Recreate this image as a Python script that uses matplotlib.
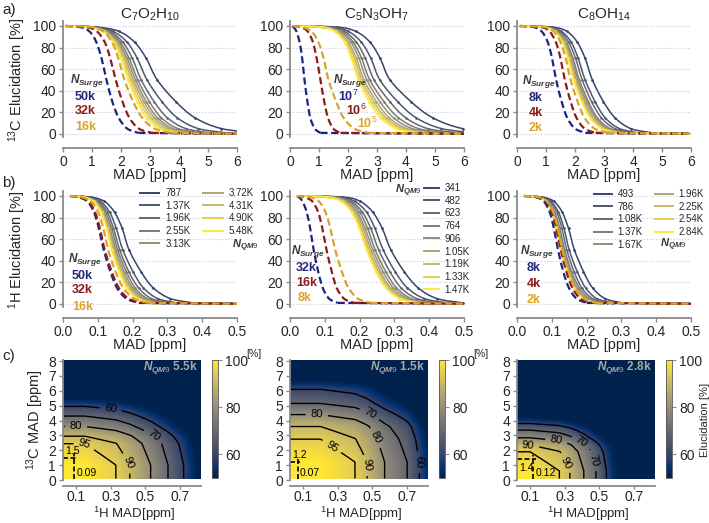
import numpy as np
import matplotlib
matplotlib.use("Agg")
import matplotlib.pyplot as plt
from matplotlib import font_manager
from matplotlib.path import Path
from matplotlib.patches import PathPatch
from matplotlib.lines import Line2D

installed = {f.name for f in font_manager.fontManager.ttflist}
narrow = "Liberation Sans Narrow" if "Liberation Sans Narrow" in installed else "Liberation Sans"

plt.rcParams["font.family"] = ["Liberation Sans", "DejaVu Sans"]
plt.rcParams["mathtext.fontset"] = "custom"
plt.rcParams["mathtext.rm"] = "Liberation Sans"
plt.rcParams["mathtext.it"] = narrow + ":italic:bold"
plt.rcParams["mathtext.bf"] = "Liberation Sans:bold"

# ---------------- data ----------------
# elucidation levels [%] and, per curve, the MAD where the curve crosses them
elu_levels = [99, 95, 85, 70, 50, 30, 15, 5, 1]

# row a: 13C, MAD [ppm]
c13_c7o2h10 = [
    [1.18, 1.93, 2.47, 2.87, 3.25, 3.89, 4.55, 5.46, 6.70],
    [1.06, 1.72, 2.21, 2.56, 2.90, 3.41, 3.94, 4.66, 5.66],
    [1.00, 1.61, 2.06, 2.39, 2.70, 3.14, 3.60, 4.23, 5.09],
    [0.97, 1.55, 1.97, 2.28, 2.58, 2.98, 3.39, 3.96, 4.74],
    [0.94, 1.50, 1.91, 2.21, 2.50, 2.87, 3.26, 3.79, 4.52],
    [0.91, 1.46, 1.86, 2.15, 2.43, 2.79, 3.16, 3.67, 4.36],
    [0.90, 1.43, 1.82, 2.10, 2.37, 2.71, 3.06, 3.55, 4.21],
    [0.88, 1.40, 1.77, 2.05, 2.31, 2.63, 2.97, 3.43, 4.06],
    [0.87, 1.37, 1.73, 2.00, 2.25, 2.56, 2.87, 3.31, 3.91],
]
c13_c7o2h10_surge = [
    [0.58, 0.91, 1.15, 1.33, 1.50, 1.70, 1.92, 2.21, 2.60],
    [0.81, 1.17, 1.44, 1.63, 1.82, 2.05, 2.29, 2.61, 3.06],
    [0.97, 1.39, 1.69, 1.91, 2.12, 2.42, 2.73, 3.15, 3.73],
]
c13_c5n3oh7 = [
    [1.61, 2.27, 2.76, 3.11, 3.45, 4.17, 4.92, 5.95, 7.36],
    [1.40, 2.01, 2.46, 2.79, 3.10, 3.71, 4.35, 5.22, 6.41],
    [1.29, 1.87, 2.29, 2.60, 2.90, 3.44, 3.99, 4.75, 5.80],
    [1.23, 1.78, 2.18, 2.47, 2.75, 3.24, 3.74, 4.43, 5.37],
    [1.18, 1.71, 2.10, 2.38, 2.65, 3.10, 3.57, 4.21, 5.09],
    [1.12, 1.64, 2.01, 2.29, 2.55, 2.98, 3.42, 4.02, 4.85],
    [1.10, 1.60, 1.96, 2.23, 2.48, 2.89, 3.31, 3.89, 4.69],
    [1.09, 1.57, 1.92, 2.17, 2.42, 2.81, 3.22, 3.77, 4.54],
    [1.07, 1.54, 1.88, 2.12, 2.36, 2.73, 3.12, 3.65, 4.38],
]
c13_c5n3oh7_surge = [
    [0.12, 0.22, 0.33, 0.42, 0.50, 0.60, 0.70, 0.85, 1.05],
    [0.36, 0.61, 0.79, 0.92, 1.05, 1.18, 1.31, 1.49, 1.74],
    [0.41, 0.74, 0.98, 1.16, 1.33, 1.59, 1.85, 2.21, 2.71],
]
c13_c8oh14 = [
    [1.22, 1.72, 2.08, 2.35, 2.60, 2.98, 3.38, 3.92, 4.67],
    [1.06, 1.53, 1.87, 2.11, 2.35, 2.69, 3.04, 3.53, 4.19],
    [1.01, 1.46, 1.78, 2.02, 2.25, 2.57, 2.91, 3.37, 4.00],
    [0.95, 1.39, 1.70, 1.93, 2.15, 2.46, 2.77, 3.21, 3.81],
    [0.95, 1.37, 1.67, 1.89, 2.10, 2.40, 2.71, 3.13, 3.71],
    [0.95, 1.34, 1.64, 1.85, 2.05, 2.34, 2.64, 3.05, 3.61],
    [0.94, 1.32, 1.60, 1.80, 2.00, 2.29, 2.59, 3.00, 3.56],
    [0.91, 1.29, 1.57, 1.77, 1.97, 2.25, 2.54, 2.94, 3.49],
    [0.90, 1.28, 1.56, 1.76, 1.95, 2.23, 2.52, 2.92, 3.47],
]
c13_c8oh14_surge = [
    [0.57, 0.85, 1.06, 1.21, 1.35, 1.54, 1.73, 2.00, 2.36],
    [0.82, 1.12, 1.34, 1.50, 1.65, 1.85, 2.05, 2.33, 2.71],
    [0.93, 1.26, 1.50, 1.68, 1.85, 2.09, 2.33, 2.67, 3.14],
]

# row b: 1H, MAD [ppm]
h1_c7o2h10 = [
    [0.080, 0.119, 0.148, 0.170, 0.190, 0.224, 0.259, 0.308, 0.374],
    [0.071, 0.107, 0.134, 0.153, 0.172, 0.201, 0.231, 0.272, 0.328],
    [0.066, 0.101, 0.127, 0.145, 0.163, 0.189, 0.217, 0.254, 0.306],
    [0.065, 0.098, 0.122, 0.140, 0.157, 0.182, 0.207, 0.242, 0.290],
    [0.060, 0.093, 0.117, 0.135, 0.152, 0.176, 0.200, 0.234, 0.281],
    [0.061, 0.092, 0.115, 0.132, 0.148, 0.171, 0.195, 0.227, 0.272],
    [0.058, 0.089, 0.112, 0.129, 0.145, 0.167, 0.190, 0.221, 0.265],
    [0.059, 0.089, 0.111, 0.127, 0.142, 0.163, 0.185, 0.216, 0.257],
    [0.057, 0.087, 0.109, 0.125, 0.140, 0.161, 0.183, 0.214, 0.255],
]
h1_c7o2h10_surge = [
    [0.043, 0.070, 0.089, 0.103, 0.117, 0.136, 0.155, 0.182, 0.218],
    [0.046, 0.073, 0.092, 0.106, 0.120, 0.140, 0.160, 0.188, 0.226],
    [0.052, 0.080, 0.101, 0.116, 0.130, 0.151, 0.173, 0.204, 0.245],
]
h1_c5n3oh7 = [
    [0.152, 0.202, 0.238, 0.265, 0.290, 0.328, 0.368, 0.422, 0.497],
    [0.139, 0.186, 0.220, 0.244, 0.268, 0.302, 0.337, 0.386, 0.452],
    [0.131, 0.176, 0.208, 0.232, 0.255, 0.287, 0.319, 0.364, 0.425],
    [0.125, 0.169, 0.200, 0.223, 0.245, 0.275, 0.306, 0.348, 0.406],
    [0.118, 0.162, 0.193, 0.216, 0.238, 0.267, 0.297, 0.338, 0.394],
    [0.117, 0.159, 0.189, 0.211, 0.232, 0.260, 0.289, 0.329, 0.384],
    [0.112, 0.154, 0.184, 0.206, 0.227, 0.255, 0.284, 0.324, 0.379],
    [0.108, 0.150, 0.180, 0.202, 0.223, 0.250, 0.278, 0.317, 0.370],
    [0.105, 0.147, 0.177, 0.199, 0.220, 0.247, 0.275, 0.314, 0.367],
]
h1_c5n3oh7_surge = [
    [0.025, 0.036, 0.048, 0.058, 0.068, 0.081, 0.094, 0.112, 0.137],
    [0.041, 0.064, 0.081, 0.093, 0.105, 0.120, 0.134, 0.155, 0.183],
    [0.056, 0.083, 0.102, 0.116, 0.130, 0.149, 0.168, 0.195, 0.231],
]
h1_c8oh14 = [
    [0.073, 0.106, 0.130, 0.148, 0.165, 0.191, 0.217, 0.253, 0.303],
    [0.067, 0.097, 0.119, 0.135, 0.150, 0.173, 0.197, 0.229, 0.274],
    [0.065, 0.093, 0.114, 0.129, 0.143, 0.164, 0.186, 0.217, 0.258],
    [0.059, 0.087, 0.108, 0.123, 0.137, 0.157, 0.179, 0.208, 0.247],
    [0.059, 0.086, 0.105, 0.119, 0.133, 0.153, 0.173, 0.201, 0.239],
    [0.056, 0.083, 0.102, 0.116, 0.130, 0.150, 0.170, 0.198, 0.236],
    [0.059, 0.084, 0.102, 0.115, 0.128, 0.147, 0.166, 0.193, 0.229],
    [0.057, 0.082, 0.100, 0.113, 0.126, 0.145, 0.164, 0.191, 0.227],
    [0.056, 0.081, 0.099, 0.112, 0.125, 0.144, 0.163, 0.190, 0.226],
]
h1_c8oh14_surge = [
    [0.054, 0.077, 0.094, 0.106, 0.118, 0.133, 0.149, 0.171, 0.201],
    [0.057, 0.082, 0.100, 0.113, 0.126, 0.142, 0.159, 0.182, 0.213],
    [0.061, 0.086, 0.104, 0.117, 0.130, 0.148, 0.166, 0.192, 0.227],
]

titles = ["C$_7$O$_2$H$_{10}$", "C$_5$N$_3$OH$_7$", "C$_8$OH$_{14}$"]
nqm9_c7o2h10 = ["787", "1.37K", "1.96K", "2.55K", "3.13K", "3.72K", "4.31K", "4.90K", "5.48K"]
nqm9_c5n3oh7 = ["341", "482", "623", "764", "906", "1.05K", "1.19K", "1.33K", "1.47K"]
nqm9_c8oh14 = ["493", "786", "1.08K", "1.37K", "1.67K", "1.96K", "2.25K", "2.54K", "2.84K"]
surge_c13 = [["50k", "32k", "16k"], ["10$^7$", "10$^6$", "10$^5$"], ["8k", "4k", "2k"]]
surge_h1 = [["50k", "32k", "16k"], ["32k", "16k", "8k"], ["8k", "4k", "2k"]]

# row c: joint elucidation maps, 1D profiles (MAD where elucidation hits hm_levels)
hm_levels = [100, 100, 95, 90, 80, 70, 60, 50, 30]
hm_h_pos = [
    [0.025, 0.15, 0.33, 0.41, 0.53, 0.63, 0.72, 0.80, 0.90],
    [0.025, 0.20, 0.40, 0.47, 0.57, 0.70, 0.77, 0.84, 0.95],
    [0.025, 0.10, 0.27, 0.33, 0.41, 0.48, 0.54, 0.60, 0.70],
]
hm_c_pos = [
    [0.1, 1.0, 2.45, 2.95, 3.60, 4.30, 4.95, 5.50, 6.50],
    [0.1, 1.2, 2.75, 3.60, 4.40, 5.15, 6.10, 6.70, 7.80],
    [0.1, 0.6, 1.90, 2.35, 2.84, 3.36, 3.80, 4.20, 5.00],
]
hm_nqm9 = ["5.5k", "1.5k", "2.8k"]
hm_best_h = [0.09, 0.07, 0.12]
hm_best_c = [1.5, 1.2, 1.4]
hm_label_pos = [
    [(0.30, 4.8), (0.55, 3.0), (0.10, 3.6), (0.41, 1.2), (0.15, 2.45)],
    [(0.18, 4.4), (0.47, 4.17), (0.50, 2.7), (0.28, 2.5), (0.46, 1.0), (0.78, 1.2)],
    [(0.09, 2.2), (0.25, 2.47), (0.40, 2.6), (0.32, 1.23), (0.45, 1.28)],
]

# ---------------- styling ----------------
W, H = 709, 523
spine_gray = "#8a8a8a"
text_col = "#262626"
surge_colors = ["#1c2483", "#8e1b1b", "#d9a42a"]
lab_colors = ["#23287a", "#8e1b1b", "#d9a42a"]

fig = plt.figure(figsize=(W / 100, H / 100), dpi=100)


def px_axes(l, t, r, b):
    return fig.add_axes([l / W, 1 - b / H, (r - l) / W, (b - t) / H])


def ftext(x, y, s, **kw):
    kw.setdefault("ha", "left")
    kw.setdefault("va", "center")
    return fig.text(x / W, 1 - y / H, s, **kw)


def style_ax(ax, size=10):
    for s in ["top", "right"]:
        ax.spines[s].set_visible(False)
    for s in ["left", "bottom"]:
        ax.spines[s].set_color(spine_gray)
        ax.spines[s].set_linewidth(1.3)
    ax.tick_params(colors=spine_gray, labelcolor=text_col, labelsize=size, length=3, width=1, pad=2)


def smooth_patch(px, py, **kw):
    # Catmull-Rom through the read points, drawn as cubic Bezier segments
    pts = np.column_stack([px, py]).astype(float)
    verts = [pts[0]]
    codes = [Path.MOVETO]
    n = len(pts)
    for k in range(n - 1):
        p0 = pts[k - 1] if k > 0 else pts[k]
        p1, p2 = pts[k], pts[k + 1]
        p3 = pts[k + 2] if k + 2 < n else pts[k + 1]
        verts += [p1 + (p2 - p0) / 6.0, p2 - (p3 - p1) / 6.0, p2]
        codes += [Path.CURVE4] * 3
    return PathPatch(Path(verts, codes), fill=False, **kw)


def draw_one(ax, xs, x0, xmax, col, lw, ls, z):
    ax.add_patch(smooth_patch([x0] + xs, [100] + elu_levels, edgecolor=col, lw=lw, ls=ls, zorder=z))
    if xs[-1] < xmax:
        ax.plot([xs[-1], xmax], [elu_levels[-1], 0.2], color=col, lw=lw, ls=ls, zorder=z)


def draw_curves(ax, curves, surge, x0, xmax):
    cols = plt.cm.cividis(np.linspace(0.2, 1.0, len(curves)))
    handles = []
    for xs, col in zip(curves, cols):
        draw_one(ax, xs, x0, xmax, col, 1.1, "-", 2)
        ax.plot(xs, elu_levels, ls="none", marker=".", ms=1.8, color=col, zorder=2)
        handles.append(Line2D([], [], color=col, lw=1.4))
    for xs, col in zip(surge, surge_colors):
        draw_one(ax, xs, x0, xmax, col, 1.6, (0, (3.2, 1.6)), 3)
    ax.set_xlim(0, xmax)
    ax.set_ylim(-3, 105)
    style_ax(ax)
    ax.spines["bottom"].set_position(("outward", 8))
    ax.set_yticks(range(0, 101, 20))
    ax.yaxis.grid(True, ls=":", color="#c3cbe0", lw=0.8)
    ax.set_axisbelow(True)
    return handles


lefts = [63, 290, 517]

# row a
c13_sets = [(c13_c7o2h10, c13_c7o2h10_surge), (c13_c5n3oh7, c13_c5n3oh7_surge), (c13_c8oh14, c13_c8oh14_surge)]
for i, (curves, surge) in enumerate(c13_sets):
    ax = px_axes(lefts[i], 20.6, lefts[i] + 174, 137.2)
    draw_curves(ax, curves, surge, 0.1, 6)
    ax.set_xticks(range(0, 7))
    ftext(lefts[i] + 87, 15, titles[i], ha="center", fontsize=11, color=text_col)
    ftext(lefts[i] + 87, 175, "MAD [ppm]", ha="center", fontsize=10.5, color=text_col)

# row b
h1_sets = [(h1_c7o2h10, h1_c7o2h10_surge), (h1_c5n3oh7, h1_c5n3oh7_surge), (h1_c8oh14, h1_c8oh14_surge)]
h1_handles = []
for i, (curves, surge) in enumerate(h1_sets):
    ax = px_axes(lefts[i], 190.6, lefts[i] + 174, 307.2)
    hs = draw_curves(ax, curves, surge, 0.02, 0.5)
    h1_handles.append((ax, hs))
    ticks = [0.0, 0.1, 0.2, 0.3, 0.4, 0.5]
    ax.set_xticks(ticks)
    ax.set_xticklabels(["%.1f" % t for t in ticks])
    ftext(lefts[i] + 87, 345, "MAD [ppm]", ha="center", fontsize=10.5, color=text_col)

ftext(17, 80, "$^{13}$C Elucidation [%]", ha="center", rotation=90, fontsize=10.5, color=text_col)
ftext(17, 250, "$^{1}$H Elucidation [%]", ha="center", rotation=90, fontsize=10.5, color=text_col)

# N_Surge annotations
surge_pos_a = [
    [(70, 81), (75, 97), (75, 111), (75, 127)],
    [(333, 81), (338, 96), (346, 110), (357, 123)],
    [(522, 82), (529, 98), (529, 113), (529, 128)],
]
surge_pos_b = [
    [(68, 260), (72, 276), (72, 290), (72, 307)],
    [(291, 252), (296, 268), (296, 283), (298, 298)],
    [(520, 251), (527, 268), (527, 284), (527, 300)],
]
for pos_set, labs in [(surge_pos_a, surge_c13), (surge_pos_b, surge_h1)]:
    for pos, lab in zip(pos_set, labs):
        ftext(pos[0][0], pos[0][1], "$N_{Surge}$", fontsize=8.5, color="#3a3a3a")
        for (x, y), s, c in zip(pos[1:], lab, lab_colors):
            ftext(x, y, s, fontsize=9, color=c, fontfamily=narrow, fontweight="bold")

# row b legends
leg_specs = [
    (nqm9_c7o2h10, 2, (140, 188), 2.0, (232, 246)),
    (nqm9_c5n3oh7, 1, (424, 183), 1.5, (395, 191)),
    (nqm9_c8oh14, 2, (594, 189), 1.8, (660, 245)),
]
for (ax, hs), (labels, ncol, anchor, hl, npos) in zip(h1_handles, leg_specs):
    leg = ax.legend(hs, labels, ncol=ncol, loc="upper left",
                    bbox_to_anchor=(anchor[0] / W, 1 - anchor[1] / H),
                    bbox_transform=fig.transFigure, frameon=False, fontsize=7,
                    handlelength=hl, handletextpad=0.6, columnspacing=1.3,
                    labelspacing=0.28, borderpad=0, borderaxespad=0)
    for t in leg.get_texts():
        t.set_color(text_col)
    ftext(npos[0], npos[1], "$N_{QM9}$", fontsize=8, color="#3a3a3a")

# row c: heatmaps
hgrid = np.linspace(0.025, 0.82, 240)
cgrid = np.linspace(0.1, 8.05, 240)
hm_lefts = [63, 290, 517]
for i in range(3):
    ax = px_axes(hm_lefts[i], 360.3, hm_lefts[i] + 138, 480)
    hprof = np.interp(hgrid, hm_h_pos[i], hm_levels)
    cprof = np.interp(cgrid, hm_c_pos[i], hm_levels)
    field = np.outer(cprof, hprof) / 100.0
    im = ax.imshow(field, origin="lower", extent=[0.025, 0.82, 0.1, 8.05], aspect="auto",
                   cmap="cividis", vmin=50, vmax=100, interpolation="bilinear")
    cs = ax.contour(hgrid, cgrid, field, levels=[60, 70, 80, 90, 95], colors="k", linewidths=1.0)
    ax.clabel(cs, fmt="%d", fontsize=8, inline=True, manual=hm_label_pos[i])
    h0, c0 = hm_best_h[i], hm_best_c[i]
    ax.plot([0.025, h0 + 0.015], [c0, c0], color="k", ls=(0, (3, 1.5)), lw=1.2)
    ax.plot([h0, h0], [0.1, c0 + 0.3], color="k", ls=(0, (3, 1.5)), lw=1.2)
    if i == 2:
        ax.text(0.035, c0 - 0.25, "%.1f" % c0, fontsize=7.5, va="top", ha="left", fontfamily=narrow)
    else:
        ax.text(0.04, c0 + 0.12, "%.1f" % c0, fontsize=7.5, va="bottom", ha="left", fontfamily=narrow)
    ax.text(h0 + 0.012, 0.45, "%.2f" % h0, fontsize=7.5, va="center", ha="left", fontfamily=narrow)
    ax.text(0.80, 7.55, "$N_{QM9}$ " + hm_nqm9[i], fontsize=8.5, color="#a8a8a8",
            fontweight="bold", ha="right", va="center", fontfamily=narrow)
    ax.set_xlim(0.025, 0.82)
    ax.set_ylim(0, 8.05)
    style_ax(ax, size=10)
    ax.tick_params(axis="x", pad=1, length=2.5)
    ax.spines["bottom"].set_position(("outward", 4))
    ax.set_xticks([0.1, 0.3, 0.5, 0.7])
    ax.set_yticks(range(0, 9))
    ftext(hm_lefts[i] + 71, 514, "$^{1}$H MAD[ppm]", ha="center", fontsize=9.5, color=text_col)

    cax = px_axes(hm_lefts[i] + 149, 360, hm_lefts[i] + 155, 478)
    cb = fig.colorbar(im, cax=cax, ticks=[60, 80, 100])
    cb.outline.set_linewidth(0.6)
    cb.outline.set_edgecolor("#555555")
    cax.tick_params(labelsize=10, labelcolor=text_col, color=spine_gray, length=3, pad=2)
    if i < 2:
        ftext(hm_lefts[i] + 183, 354, "[%]", fontsize=7.5, color=text_col)
    else:
        ftext(705, 420, "Elucidation [%]", ha="center", rotation=90, fontsize=8, color=text_col)

ftext(35, 420, "$^{13}$C MAD [ppm]", ha="center", rotation=90, fontsize=10.5, color=text_col)

ftext(2, 10, "a)", fontsize=11, color=text_col)
ftext(2, 183, "b)", fontsize=11, color=text_col)
ftext(2, 356, "c)", fontsize=11, color=text_col)

fig.savefig("out.png", dpi=100)
